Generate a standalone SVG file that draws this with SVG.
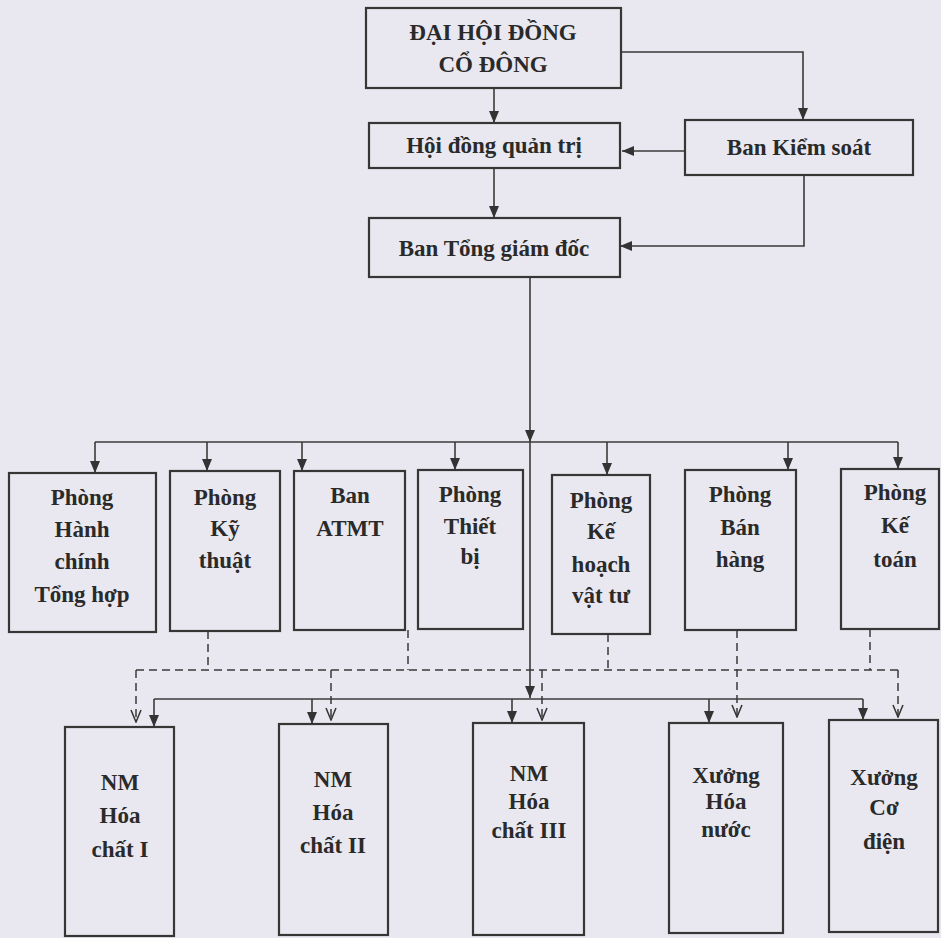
<svg xmlns="http://www.w3.org/2000/svg" width="941" height="938" viewBox="0 0 941 938">
<defs>
<style>
.bg{fill:#e9e8f0}
.box{fill:none;stroke:#363636;stroke-width:2.2}
.ln{fill:none;stroke:#3a3a3a;stroke-width:1.6}
.ds{fill:none;stroke:#3a3a3a;stroke-width:1.5;stroke-dasharray:8 5}
.t{font-family:"Liberation Serif","Times New Roman",serif;font-weight:bold;font-size:23px;fill:#2a2a2a;text-anchor:middle}
</style>
<marker id="af" viewBox="0 0 12 10" refX="12" refY="5" markerWidth="12" markerHeight="10" markerUnits="userSpaceOnUse" orient="auto">
<path d="M0,0 L12,5 L0,10 z" fill="#333"/>
</marker>
<marker id="ao" viewBox="0 0 14 12" refX="13" refY="6" markerWidth="14" markerHeight="12" markerUnits="userSpaceOnUse" orient="auto">
<path d="M1,1 L13,6 L1,11" fill="none" stroke="#333" stroke-width="1.5"/>
</marker>
</defs>
<rect class="bg" x="0" y="0" width="941" height="938"/>

<g id="connectors">
<path class="ln" d="M494,88 V123" marker-end="url(#af)"/>
<path class="ln" d="M621,52 H803 V120" marker-end="url(#af)"/>
<path class="ln" d="M685,151 H622" marker-end="url(#af)"/>
<path class="ln" d="M494,168 V218" marker-end="url(#af)"/>
<path class="ln" d="M804,175 V246 H620" marker-end="url(#af)"/>
<path class="ln" d="M530,277 V442" marker-end="url(#af)"/>
<path class="ln" d="M530,442 V698" marker-end="url(#af)"/>
<path class="ln" d="M95,442 H898"/>
<path class="ln" d="M95,442 V473" marker-end="url(#af)"/>
<path class="ln" d="M207,442 V471" marker-end="url(#af)"/>
<path class="ln" d="M302,442 V471" marker-end="url(#af)"/>
<path class="ln" d="M455,442 V470" marker-end="url(#af)"/>
<path class="ln" d="M607,442 V475" marker-end="url(#af)"/>
<path class="ln" d="M788,442 V470" marker-end="url(#af)"/>
<path class="ln" d="M898,442 V469" marker-end="url(#af)"/>
<path class="ln" d="M154,699 H863"/>
<path class="ln" d="M154,699 V727" marker-end="url(#af)"/>
<path class="ln" d="M312,699 V724" marker-end="url(#af)"/>
<path class="ln" d="M512,699 V723" marker-end="url(#af)"/>
<path class="ln" d="M709,699 V723" marker-end="url(#af)"/>
<path class="ln" d="M863,699 V720" marker-end="url(#af)"/>
<path class="ds" d="M136,670 H898"/>
<path class="ds" d="M208,631 V670"/>
<path class="ds" d="M408,630 V670"/>
<path class="ds" d="M608,634 V670"/>
<path class="ds" d="M870,629 V670"/>
<path class="ds" d="M136,670 V722" marker-end="url(#ao)"/>
<path class="ds" d="M331,670 V720" marker-end="url(#ao)"/>
<path class="ds" d="M542,670 V720" marker-end="url(#ao)"/>
<path class="ds" d="M737,630 V717" marker-end="url(#ao)"/>
<path class="ds" d="M898,670 V717" marker-end="url(#ao)"/>
</g>

<g id="dai-hoi-dong-co-dong">
<rect class="box" x="366" y="8" width="255" height="80"/>
<text class="t"><tspan x="493" y="40">ĐẠI HỘI ĐỒNG</tspan><tspan x="493" y="72">CỔ ĐÔNG</tspan></text>
</g>
<g id="hoi-dong-quan-tri">
<rect class="box" x="369" y="123" width="251" height="45"/>
<text class="t" x="494" y="153">Hội đồng quản trị</text>
</g>
<g id="ban-kiem-soat">
<rect class="box" x="685" y="120" width="228" height="55"/>
<text class="t" x="799" y="155">Ban Kiểm soát</text>
</g>
<g id="ban-tong-giam-doc">
<rect class="box" x="369" y="218" width="251" height="59"/>
<text class="t" x="494" y="256">Ban Tổng giám đốc</text>
</g>

<g id="phong-hanh-chinh-tong-hop">
<rect class="box" x="9" y="473" width="147" height="159"/>
<text class="t"><tspan x="82" y="505">Phòng</tspan><tspan x="82" y="537">Hành</tspan><tspan x="82" y="569">chính</tspan><tspan x="82" y="602">Tổng hợp</tspan></text>
</g>
<g id="phong-ky-thuat">
<rect class="box" x="170" y="471" width="110" height="160"/>
<text class="t"><tspan x="225" y="505">Phòng</tspan><tspan x="225" y="536">Kỹ</tspan><tspan x="225" y="568">thuật</tspan></text>
</g>
<g id="ban-atmt">
<rect class="box" x="294" y="471" width="111" height="159"/>
<text class="t"><tspan x="350" y="503">Ban</tspan><tspan x="350" y="536">ATMT</tspan></text>
</g>
<g id="phong-thiet-bi">
<rect class="box" x="418" y="470" width="105" height="159"/>
<text class="t"><tspan x="470" y="502">Phòng</tspan><tspan x="470" y="534">Thiết</tspan><tspan x="470" y="564">bị</tspan></text>
</g>
<g id="phong-ke-hoach-vat-tu">
<rect class="box" x="552" y="475" width="98" height="159"/>
<text class="t"><tspan x="601" y="508">Phòng</tspan><tspan x="601" y="539">Kế</tspan><tspan x="601" y="572">hoạch</tspan><tspan x="601" y="603">vật tư</tspan></text>
</g>
<g id="phong-ban-hang">
<rect class="box" x="685" y="470" width="111" height="160"/>
<text class="t"><tspan x="740" y="502">Phòng</tspan><tspan x="740" y="535">Bán</tspan><tspan x="740" y="567">hàng</tspan></text>
</g>
<g id="phong-ke-toan">
<rect class="box" x="841" y="469" width="98" height="160"/>
<text class="t"><tspan x="895" y="500">Phòng</tspan><tspan x="895" y="533">Kế</tspan><tspan x="895" y="567">toán</tspan></text>
</g>

<g id="nm-hoa-chat-1">
<rect class="box" x="65" y="727" width="109" height="209"/>
<text class="t"><tspan x="120" y="790">NM</tspan><tspan x="120" y="823">Hóa</tspan><tspan x="120" y="857">chất I</tspan></text>
</g>
<g id="nm-hoa-chat-2">
<rect class="box" x="279" y="724" width="109" height="211"/>
<text class="t"><tspan x="333" y="787">NM</tspan><tspan x="333" y="820">Hóa</tspan><tspan x="333" y="853">chất II</tspan></text>
</g>
<g id="nm-hoa-chat-3">
<rect class="box" x="473" y="723" width="111" height="212"/>
<text class="t"><tspan x="529" y="781">NM</tspan><tspan x="529" y="809">Hóa</tspan><tspan x="529" y="838">chất III</tspan></text>
</g>
<g id="xuong-hoa-nuoc">
<rect class="box" x="669" y="723" width="114" height="210"/>
<text class="t"><tspan x="726" y="783">Xưởng</tspan><tspan x="726" y="809">Hóa</tspan><tspan x="726" y="837">nước</tspan></text>
</g>
<g id="xuong-co-dien">
<rect class="box" x="829" y="720" width="109" height="212"/>
<text class="t"><tspan x="884" y="785">Xưởng</tspan><tspan x="884" y="815">Cơ</tspan><tspan x="884" y="849">điện</tspan></text>
</g>
</svg>
